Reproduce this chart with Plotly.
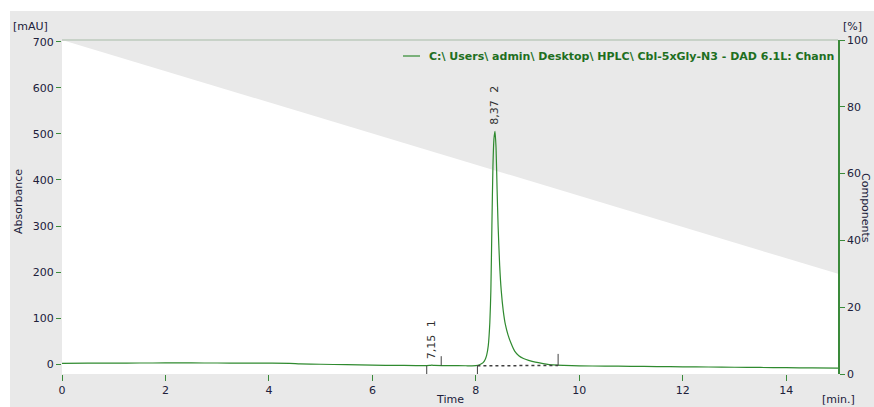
import plotly.graph_objects as go

# ---------------- data ----------------
time_min = [0, 0.5, 1, 1.5, 2, 2.5, 3, 3.5, 4, 4.4, 4.6, 5, 5.5, 6, 6.5, 7, 7.1, 7.15, 7.2,
            7.5, 7.8, 8.0, 8.08, 8.14, 8.18, 8.21, 8.24, 8.27, 8.29, 8.31, 8.33, 8.35, 8.37,
            8.39, 8.41, 8.43, 8.46, 8.49, 8.53, 8.57, 8.62, 8.68, 8.75, 8.83, 8.92, 9.02,
            9.15, 9.3, 9.5, 9.7, 10, 10.5, 11, 11.5, 12, 12.5, 13, 13.5, 14, 14.5, 15]
absorbance_mau = [1.5, 1.8, 2, 2.2, 2.3, 2.3, 2.2, 2.0, 1.8, 1.5, 0.5, -0.5, -1.5, -2.5, -3, -3.5,
                  -3, -2.5, -3, -3.5, -3.8, -3.5, -1, 3, 10, 20, 40, 90, 160, 300, 430, 490, 506,
                  470, 380, 300, 215, 160, 115, 86, 64, 45, 28, 18, 12, 8, 4, 1, -2, -3, -4,
                  -4.5, -5, -5.5, -6, -6.5, -7, -7.5, -8, -8.5, -9]

gradient_time = [0, 15]
gradient_pct = [100, 30]

event_times = [7.05, 7.33, 8.03, 9.59]
event_base = [-4, -3.5, -4, -3]
event_tip = [-21.7, 17, -21.7, 22]

baseline_time = [8.03, 9.59]
baseline_mau = [-4, -3]

peak_times = [7.15, 8.37]
peak_heights = [-2, 506]
peak_ids = ["1", "2"]

x_ticks = [0, 2, 4, 6, 8, 10, 12, 14]
mau_ticks = [0, 100, 200, 300, 400, 500, 600, 700]
pct_ticks = [0, 20, 40, 60, 80, 100]

legend_text = "C:\\ Users\\ admin\\ Desktop\\ HPLC\\ Cbl-5xGly-N3 - DAD 6.1L: Chann"

# ---------------- style ----------------
GREEN = "#3a8a3a"
TRACE = "#2f8a2f"
GREY = "#e9e9e9"
TXT = "#20203a"
FONT = "DejaVu Sans"

fig = go.Figure()

# gradient (white area below gradient line) on the % axis (base axis, drawn first)
fig.add_trace(go.Scatter(x=gradient_time, y=gradient_pct, yaxis="y", mode="lines",
                         line=dict(width=0, color="white"), fill="tozeroy",
                         fillcolor="white", hoverinfo="skip"))

# chromatogram on mAU axis
fig.add_trace(go.Scatter(x=time_min, y=absorbance_mau, yaxis="y2", mode="lines",
                         line=dict(color=TRACE, width=1.2, shape="spline", smoothing=0.6)))

# integration baseline (dotted)
fig.add_trace(go.Scatter(x=baseline_time, y=baseline_mau, yaxis="y2", mode="lines",
                         line=dict(color="#404040", width=1.5, dash="dot")))

# event markers
ex, ey = [], []
for t, b, tip in zip(event_times, event_base, event_tip):
    ex += [t, t, None]
    ey += [b, tip, None]
fig.add_trace(go.Scatter(x=ex, y=ey, yaxis="y2", mode="lines",
                         line=dict(color="#404040", width=1)))

annotations = []
for t, h, pid in zip(peak_times, peak_heights, peak_ids):
    annotations.append(dict(x=t, y=h, xref="x", yref="y2", text=f"{t:.2f}".replace(".", ","),
                            textangle=-90, showarrow=False, xanchor="center", yanchor="bottom",
                            yshift=4, font=dict(family=FONT, size=11, color="#303030")))
    annotations.append(dict(x=t, y=h, xref="x", yref="y2", text=pid,
                            textangle=-90, showarrow=False, xanchor="center", yanchor="bottom",
                            yshift=36, font=dict(family=FONT, size=11, color="#303030")))

def px_x(p):
    return (p - 62) / 776.0

def px_y(p):
    return (374 - p) / 334.0

def label(text, cx, cy, angle=0, size=11):
    return dict(text=text, x=px_x(cx), y=px_y(cy), xref="paper", yref="paper",
                showarrow=False, xanchor="center", yanchor="middle", textangle=angle,
                font=dict(family=FONT, size=size, color=TXT))

annotations += [
    label("[mAU]", 30, 27),
    label("Absorbance", 18, 202, angle=-90),
    label("[%]", 852, 27),
    label("Components", 866, 208, angle=90),
    label("Time", 450, 399),
    label("[min.]", 838, 399),
    dict(text="<b>" + legend_text + "</b>", x=px_x(427), y=px_y(56), xref="paper", yref="paper",
         showarrow=False, xanchor="left", yanchor="middle",
         font=dict(family=FONT, size=11, color="#1f6f1f")),
]

shapes = [
    dict(type="rect", xref="paper", yref="paper", x0=px_x(10), x1=px_x(880), y0=px_y(420),
         y1=px_y(11), fillcolor=GREY, line=dict(width=0), layer="below"),
    dict(type="line", xref="paper", yref="paper", x0=0, x1=1, y0=1, y1=1,
         line=dict(color="#c8d2c8", width=2)),
    dict(type="line", xref="paper", yref="paper", x0=px_x(403), x1=px_x(420), y0=px_y(56),
         y1=px_y(56), line=dict(color=TRACE, width=1.2)),
]

fig.update_layout(
    template="none",
    width=874, height=407,
    margin=dict(l=62, r=36, t=40, b=33, autoexpand=False),
    paper_bgcolor="white", plot_bgcolor="rgba(0,0,0,0)",
    showlegend=False,
    xaxis=dict(range=[0, 15], tickvals=x_ticks, ticks="outside", ticklen=6, tickcolor=GREEN,
               showgrid=False, zeroline=False, showline=False, automargin=False,
               tickfont=dict(family=FONT, size=11, color=TXT)),
    yaxis=dict(range=[0, 100], side="right", tickvals=pct_ticks, ticks="outside", ticklen=5,
               tickcolor=GREEN, showline=True, linecolor=GREEN, linewidth=1.5,
               showgrid=False, zeroline=False, automargin=False,
               tickfont=dict(family=FONT, size=11, color=TXT)),
    yaxis2=dict(range=[-21.7, 704.3], side="left", overlaying="y", tickvals=mau_ticks,
                ticks="outside", ticklen=5, tickcolor=GREEN, showline=False,
                showgrid=False, zeroline=False, automargin=False,
                tickfont=dict(family=FONT, size=11, color=TXT)),
    annotations=annotations,
    shapes=shapes,
)

fig.write_html("out.html")
